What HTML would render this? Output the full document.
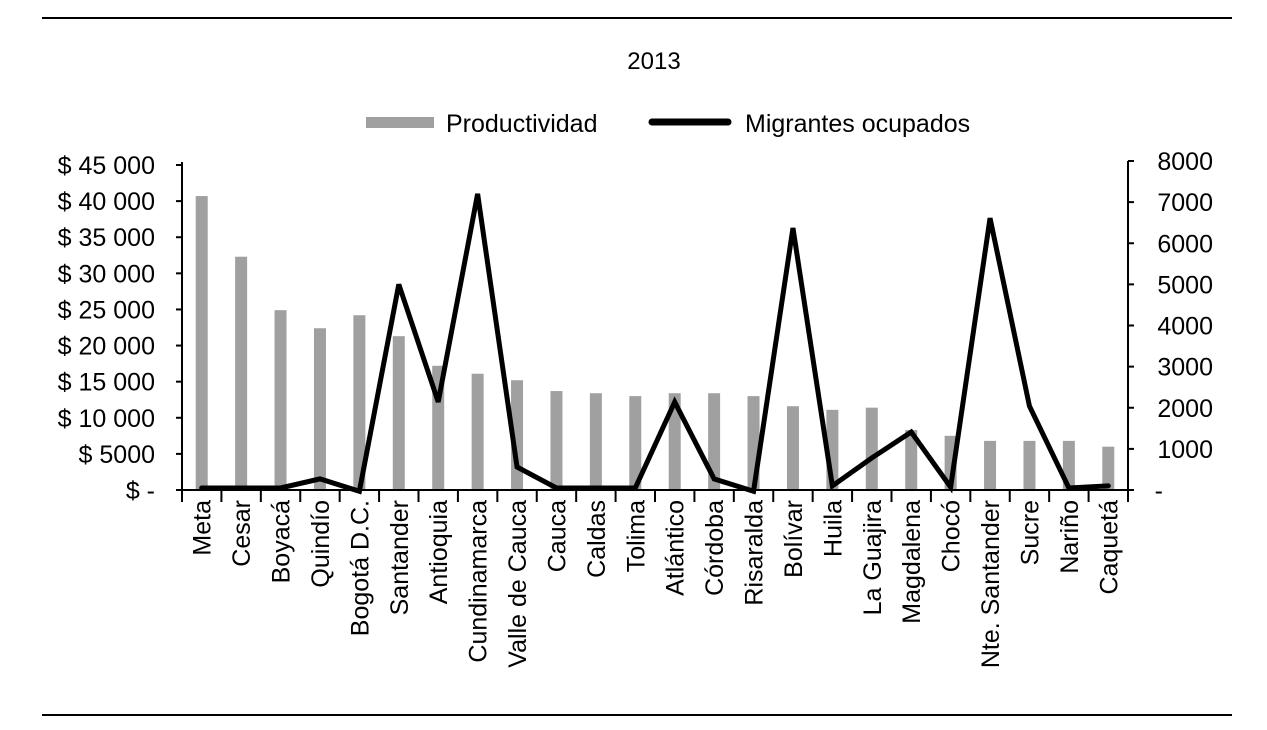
<!DOCTYPE html>
<html><head><meta charset="utf-8"><style>
body{margin:0;background:#fff;}
svg{display:block;font-family:"Liberation Sans",sans-serif;}
</style></head><body>
<svg id="c" width="1267" height="730">
<line x1="42" y1="18" x2="1232" y2="18" stroke="#000" stroke-width="2"/>
<line x1="42" y1="715" x2="1232" y2="715" stroke="#000" stroke-width="2"/>
<text x="654" y="69" font-size="24" text-anchor="middle">2013</text>
<g>
<rect x="366" y="117" width="68" height="11" fill="#a0a0a0"/>
<text x="446" y="132" font-size="25">Productividad</text>
<line x1="652" y1="122" x2="728" y2="122" stroke="#000" stroke-width="7" stroke-linecap="round"/>
<text x="745" y="132" font-size="25">Migrantes ocupados</text>
</g>
<g id="plot"></g>
</svg>
<script>
const categories=["Meta","Cesar","Boyacá","Quindío","Bogotá D.C.","Santander","Antioquia","Cundinamarca","Valle de Cauca","Cauca","Caldas","Tolima","Atlántico","Córdoba","Risaralda","Bolívar","Huila","La Guajira","Magdalena","Chocó","Nte. Santander","Sucre","Nariño","Caquetá"];
const productividad=[40700,32300,24900,22400,24200,21300,17200,16100,15200,13700,13400,13000,13400,13400,13000,11600,11100,11400,8300,7500,6800,6800,6800,6000];
const migrantes=[50,50,50,270,-30,5000,2140,7200,560,50,50,50,2140,270,-30,6370,100,780,1410,70,6610,2040,50,100];
const leftTicks=[0,5000,10000,15000,20000,25000,30000,35000,40000,45000];
const leftLabels=["$ -","$ 5000","$ 10 000","$ 15 000","$ 20 000","$ 25 000","$ 30 000","$ 35 000","$ 40 000","$ 45 000"];
const rightTicks=[0,1000,2000,3000,4000,5000,6000,7000,8000];
const rightLabels=["-","1000","2000","3000","4000","5000","6000","7000","8000"];

const NS="http://www.w3.org/2000/svg";
const g=document.getElementById("plot");
const X0=182,X1=1128,Y0=490,YT=165,YR=161;
const step=(X1-X0)/categories.length;
const xc=i=>X0+step*(i+0.5);
const yl=v=>Y0-v*(Y0-YT)/45000;
const yr=v=>Y0-v*(Y0-YR)/8000;
function mk(t,a){const e=document.createElementNS(NS,t);for(const k in a)e.setAttribute(k,a[k]);g.appendChild(e);return e;}
productividad.forEach((v,i)=>{
 const r=mk("rect",{x:xc(i)-6,y:yl(v),width:12,height:Y0-yl(v),fill:"#a0a0a0"});
 
 
});
let a=mk("line",{x1:X0,y1:YT-3,x2:X0,y2:Y0+1,stroke:"#000","stroke-width":2});


a=mk("line",{x1:X1,y1:YR,x2:X1,y2:Y0+1,stroke:"#000","stroke-width":2});


a=mk("line",{x1:X0,y1:Y0,x2:X1,y2:Y0,stroke:"#000","stroke-width":2});


leftTicks.forEach((v,i)=>{
 mk("line",{x1:X0-6,y1:yl(v),x2:X0,y2:yl(v),stroke:"#000","stroke-width":2});
 const t=mk("text",{x:155,y:yl(v)+9,"font-size":25,"text-anchor":"end"});
 t.textContent=leftLabels[i];
 
 
});
rightTicks.forEach((v,i)=>{
 mk("line",{x1:X1,y1:yr(v),x2:X1+6,y2:yr(v),stroke:"#000","stroke-width":2});
 const t=mk("text",{x:v===0?1163:1213,y:yr(v)+9,"font-size":25,"text-anchor":"end"});
 t.textContent=rightLabels[i];
 
 
});
for(let i=0;i<=categories.length;i++){
 mk("line",{x1:X0+step*i,y1:Y0,x2:X0+step*i,y2:Y0+12,stroke:"#000","stroke-width":2});
}
categories.forEach((c,i)=>{
 const t=mk("text",{x:0,y:0,"font-size":25,"text-anchor":"end",transform:`translate(${xc(i)+9},500) rotate(-90)`});
 t.textContent=c;
 
 
});
const pts=migrantes.map((v,i)=>xc(i)+","+yr(v)).join(" ");
const l=mk("polyline",{points:pts,fill:"none",stroke:"#000","stroke-width":5,"stroke-linejoin":"miter","stroke-miterlimit":3,"stroke-linecap":"round"});


</script>
</body></html>
